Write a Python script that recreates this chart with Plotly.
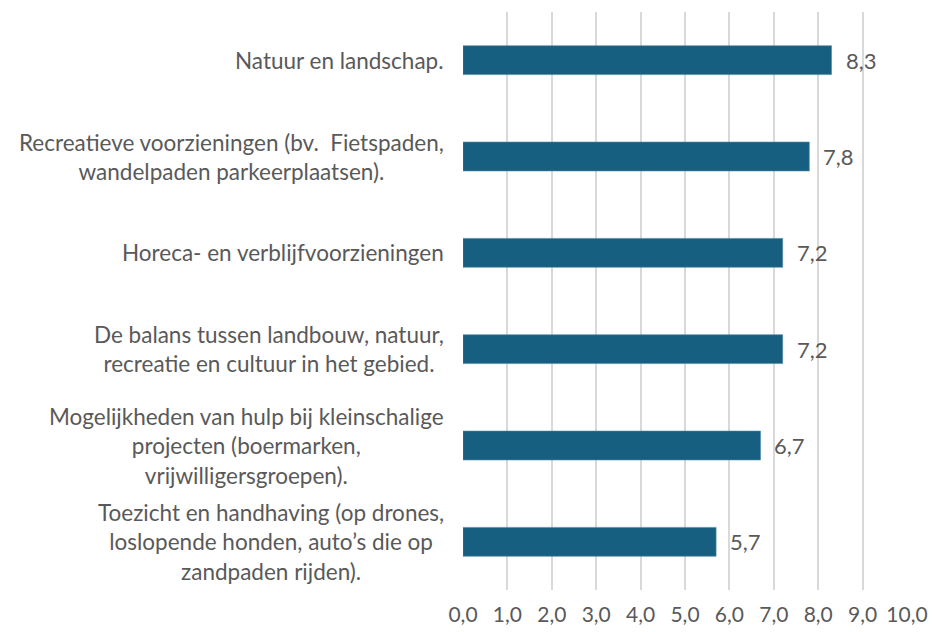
import plotly.graph_objects as go

categories = [
    "Natuur en landschap.",
    "Recreatieve voorzieningen (bv.  Fietspaden,<br>wandelpaden parkeerplaatsen).",
    "Horeca- en verblijfvoorzieningen",
    "De balans tussen landbouw, natuur,<br>recreatie en cultuur in het gebied.",
    "Mogelijkheden van hulp bij kleinschalige<br>projecten (boermarken,<br>vrijwilligersgroepen).",
    "Toezicht en handhaving (op drones,<br>loslopende honden, auto’s die op<br>zandpaden rijden).",
]
values = [8.3, 7.8, 7.2, 7.2, 6.7, 5.7]
tick_vals = [0, 1, 2, 3, 4, 5, 6, 7, 8, 9, 10]

FONT = "Lato"
GRAY = "#595959"

fig = go.Figure()
fig.add_trace(go.Bar(
    y=list(range(len(categories))),
    x=values,
    orientation="h",
    marker=dict(color="#175F80", line=dict(color="#4A86A6", width=0.6)),
))

annotations = []
for i, c in enumerate(categories):
    annotations.append(dict(
        x=0, y=i, xref="x", yref="y", text=c, showarrow=False,
        xanchor="right", yanchor="middle", align="center", xshift=-17,
        font=dict(family=FONT, size=22.5, color=GRAY),
    ))
for i, v in enumerate(values):
    annotations.append(dict(
        x=v, y=i, xref="x", yref="y", text=f"{v:.1f}".replace(".", ","),
        showarrow=False, xanchor="left", yanchor="middle", xshift=12,
        font=dict(family=FONT, size=22, color=GRAY),
    ))

fig.update_layout(
    width=933, height=632,
    margin=dict(l=463, r=26, t=12, b=42),
    paper_bgcolor="white", plot_bgcolor="white",
    separators=",.",
    bargap=0.70,
    showlegend=False,
    annotations=annotations,
    xaxis=dict(
        range=[0, 10], tickvals=tick_vals, tickformat=".1f",
        showgrid=True, gridcolor="#D9D9D9", gridwidth=1.5,
        zeroline=False, showline=False, automargin=False,
        ticks="outside", ticklen=6, tickcolor="rgba(0,0,0,0)",
        tickfont=dict(family=FONT, size=21, color=GRAY),
    ),
    yaxis=dict(
        range=[5.5, -0.5], showticklabels=False, showgrid=False,
        zeroline=False, showline=False, automargin=False,
    ),
)

fig.write_html(
    "out.html",
    config={"displayModeBar": False},
    post_script="document.body.style.margin='0';document.body.style.overflow='hidden';",
)
